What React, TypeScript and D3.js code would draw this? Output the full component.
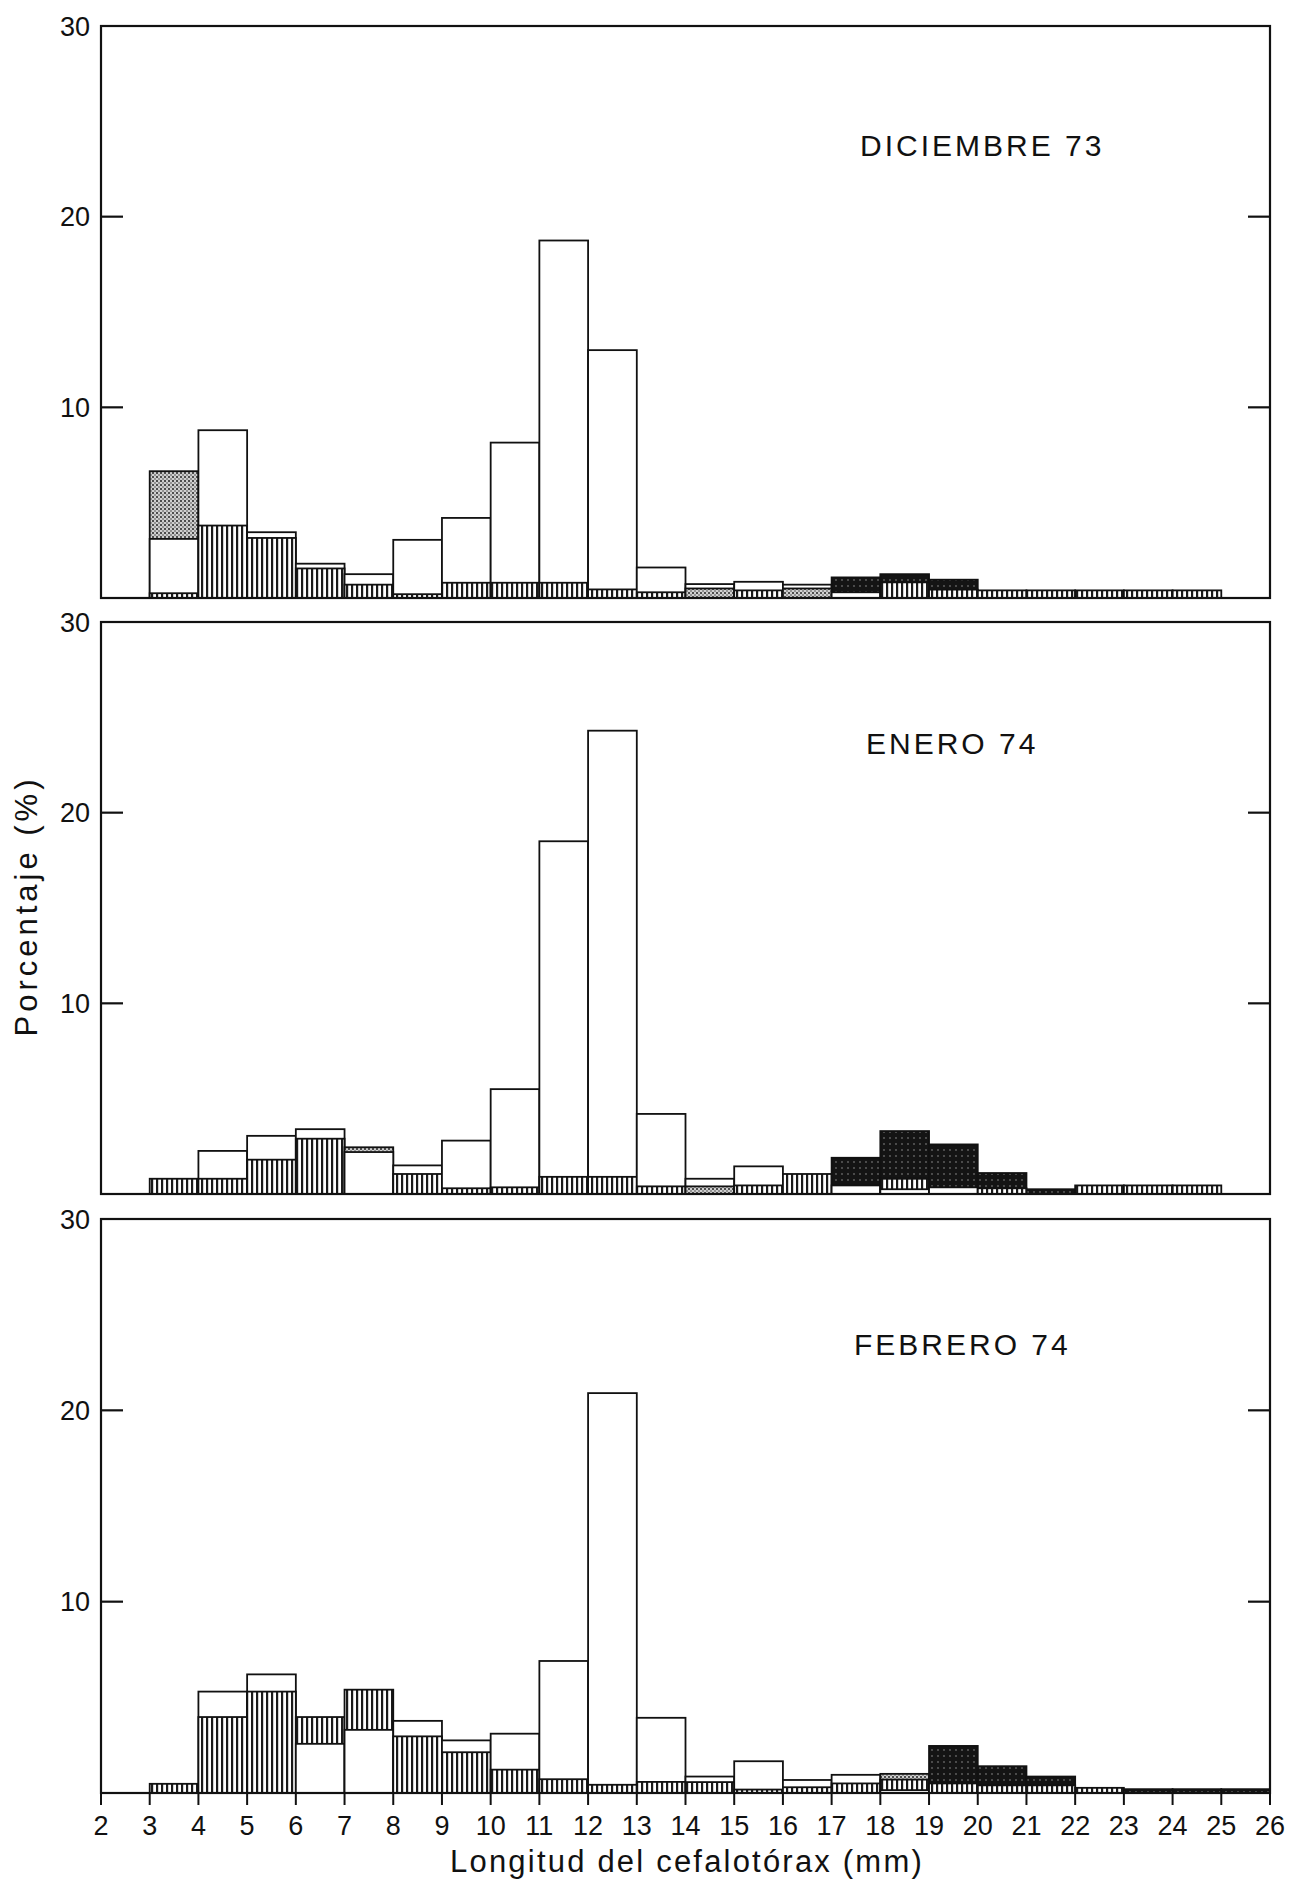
import React, { useEffect, useRef } from 'react';
import * as d3 from 'd3';

// clases de talla (limite inferior, mm)
const clases = [3, 4, 5, 6, 7, 8, 9, 10, 11, 12, 13, 14, 15, 16, 17, 18, 19, 20, 21, 22, 23, 24, 25];

const titulos = ['DICIEMBRE 73', 'ENERO 74', 'FEBRERO 74'];

// DICIEMBRE 73
const dicAbierto = [3.1, 8.8, 3.45, 1.8, 1.25, 3.05, 4.2, 8.15, 18.75, 13.0, 1.6, 0.73, 0.85, 0.7, 0.3, 0, 0, 0, 0, 0, 0, 0, 0];
const dicRayado = [0.25, 3.8, 3.15, 1.55, 0.7, 0.2, 0.8, 0.8, 0.8, 0.45, 0.3, 0, 0.4, 0, 0, 0.82, 0.44, 0.4, 0.4, 0.4, 0.4, 0.4, 0];
const dicPunteado = [6.65, 0, 0, 0, 0, 0, 0, 0, 0, 0, 0, 0.5, 0, 0.5, 0, 0, 0, 0, 0, 0, 0, 0, 0];
const dicNegro = [0, 0, 0, 0, 0, 0, 0, 0, 0, 0, 0, 0, 0, 0, 1.08, 1.25, 0.96, 0, 0, 0, 0, 0, 0];

// ENERO 74
const eneAbierto = [0, 2.26, 3.05, 3.4, 2.2, 1.5, 2.8, 5.5, 18.5, 24.3, 4.2, 0.8, 1.45, 0, 0.45, 0.25, 0.35, 0, 0, 0, 0, 0, 0];
const eneRayado = [0.8, 0.8, 1.8, 2.9, 0, 1.05, 0.3, 0.35, 0.9, 0.9, 0.4, 0, 0.45, 1.05, 0, 0.8, 0, 0.3, 0, 0.45, 0.45, 0.45, 0];
const enePunteado = [0, 0, 0, 0, 2.45, 0, 0, 0, 0, 0, 0, 0.4, 0, 0, 0, 0, 0, 0, 0, 0, 0, 0, 0];
const eneNegro = [0, 0, 0, 0, 0, 0, 0, 0, 0, 0, 0, 0, 0, 0, 1.9, 3.3, 2.6, 1.1, 0.25, 0, 0, 0, 0];

// FEBRERO 74
const febAbierto = [0, 5.3, 6.2, 2.57, 3.3, 3.77, 2.75, 3.1, 6.9, 20.9, 3.93, 0.86, 1.66, 0.68, 0.95, 0.15, 0, 0, 0, 0, 0, 0, 0];
const febRayado = [0.48, 3.97, 5.3, 3.97, 5.4, 2.96, 2.13, 1.22, 0.72, 0.43, 0.58, 0.57, 0.18, 0.3, 0.5, 0.7, 0.5, 0.4, 0.4, 0.27, 0, 0, 0];
const febPunteado = [0, 0, 0, 0, 0, 0, 0, 0, 0, 0, 0, 0, 0, 0, 0, 1.0, 0, 0, 0, 0, 0, 0, 0];
const febNegro = [0, 0, 0, 0, 0, 0, 0, 0, 0, 0, 0, 0, 0, 0, 0, 0, 2.46, 1.4, 0.86, 0, 0.2, 0.2, 0.2];

const yTicks = [10, 20];
const yLabels = [10, 20, 30];
const xTicks = d3.range(2, 27);

const width = 1305;
const height = 1882;
const font = '"Liberation Sans", Arial, sans-serif';

export default function App() {
  const ref = useRef<SVGSVGElement>(null);

  useEffect(() => {
    drawChart();
  }, []);

  function drawChart() {
    const svg = d3.select(ref.current);
    svg.selectAll('*').remove();

    svg.append('rect').attr('width', width).attr('height', height).attr('fill', '#fff');

    // patterns
    const defs = svg.append('defs');
    const pRay = defs.append('pattern').attr('id', 'rayado')
      .attr('patternUnits', 'userSpaceOnUse').attr('width', 5).attr('height', 6);
    pRay.append('rect').attr('width', 5).attr('height', 6).attr('fill', '#fff');
    pRay.append('rect').attr('x', 1).attr('width', 2.2).attr('height', 6).attr('fill', '#1a1a1a');

    const pPun = defs.append('pattern').attr('id', 'punteado')
      .attr('patternUnits', 'userSpaceOnUse').attr('width', 4).attr('height', 4);
    pPun.append('rect').attr('width', 4).attr('height', 4).attr('fill', '#cfcfcf');
    pPun.append('circle').attr('cx', 1).attr('cy', 1).attr('r', 1).attr('fill', '#222');
    pPun.append('circle').attr('cx', 3).attr('cy', 3).attr('r', 0.8).attr('fill', '#444');

    const pNeg = defs.append('pattern').attr('id', 'negro')
      .attr('patternUnits', 'userSpaceOnUse').attr('width', 6).attr('height', 6);
    pNeg.append('rect').attr('width', 6).attr('height', 6).attr('fill', '#141414');
    pNeg.append('circle').attr('cx', 2).attr('cy', 4).attr('r', 0.7).attr('fill', '#aaa');

    const fills: any = {
      abierto: '#fff',
      rayado: 'url(#rayado)',
      punteado: 'url(#punteado)',
      negro: 'url(#negro)',
    };

    const paneles = [
      { top: 26, bottom: 598, tx: 860, ty: 130, series: { abierto: dicAbierto, rayado: dicRayado, punteado: dicPunteado, negro: dicNegro } },
      { top: 622, bottom: 1194, tx: 866, ty: 132, series: { abierto: eneAbierto, rayado: eneRayado, punteado: enePunteado, negro: eneNegro } },
      { top: 1219, bottom: 1793, tx: 854, ty: 136, series: { abierto: febAbierto, rayado: febRayado, punteado: febPunteado, negro: febNegro } },
    ];

    const x = d3.scaleLinear().domain([2, 26]).range([101, 1270]);

    paneles.forEach((p, pi) => {
      const y = d3.scaleLinear().domain([0, 30]).range([p.bottom, p.top]);
      const g = svg.append('g');

      // bars: in each class the tallest goes behind, the shortest in front
      clases.forEach((c, i) => {
        const barras = Object.keys(p.series)
          .map((k) => ({ k, v: p.series[k][i] }))
          .filter((d) => d.v > 0)
          .sort((a, b) => b.v - a.v);
        g.selectAll(null)
          .data(barras)
          .enter()
          .append('rect')
          .attr('x', x(c))
          .attr('width', x(c + 1) - x(c))
          .attr('y', (d) => y(d.v))
          .attr('height', (d) => y(0) - y(d.v))
          .attr('fill', (d) => fills[d.k])
          .attr('stroke', '#111')
          .attr('stroke-width', 1.8);
      });

      // frame
      g.append('rect')
        .attr('x', x(2)).attr('y', y(30))
        .attr('width', x(26) - x(2)).attr('height', y(0) - y(30))
        .attr('fill', 'none').attr('stroke', '#111').attr('stroke-width', 2.2);

      // inward ticks, both sides
      yTicks.forEach((t) => {
        g.append('line').attr('x1', x(2)).attr('x2', x(2) + 22)
          .attr('y1', y(t)).attr('y2', y(t)).attr('stroke', '#111').attr('stroke-width', 2.2);
        g.append('line').attr('x1', x(26) - 22).attr('x2', x(26))
          .attr('y1', y(t)).attr('y2', y(t)).attr('stroke', '#111').attr('stroke-width', 2.2);
      });

      g.selectAll(null)
        .data(yLabels)
        .enter()
        .append('text')
        .attr('x', 90)
        .attr('y', (d) => y(d))
        .attr('dy', '0.36em')
        .attr('text-anchor', 'end')
        .style('font-family', font)
        .style('font-size', '27px')
        .attr('fill', '#111')
        .text((d) => d);

      g.append('text')
        .attr('x', p.tx)
        .attr('y', y(30) + p.ty)
        .style('font-family', font)
        .style('font-size', '30px')
        .style('letter-spacing', '3px')
        .attr('fill', '#111')
        .text(titulos[pi]);

      if (pi === 2) {
        g.selectAll(null)
          .data(xTicks)
          .enter()
          .append('line')
          .attr('x1', (d) => x(d)).attr('x2', (d) => x(d))
          .attr('y1', y(0)).attr('y2', y(0) + 12)
          .attr('stroke', '#111').attr('stroke-width', 2);
        g.selectAll(null)
          .data(xTicks)
          .enter()
          .append('text')
          .attr('x', (d) => x(d))
          .attr('y', y(0) + 42)
          .attr('text-anchor', 'middle')
          .style('font-family', font)
          .style('font-size', '27px')
          .attr('fill', '#111')
          .text((d) => d);
      }
    });

    svg.append('text')
      .attr('x', 687)
      .attr('y', 1872)
      .attr('text-anchor', 'middle')
      .style('font-family', font)
      .style('font-size', '31px')
      .style('letter-spacing', '2.2px')
      .attr('fill', '#111')
      .text('Longitud del cefalotórax (mm)');

    svg.append('text')
      .attr('transform', 'translate(37, 906) rotate(-90)')
      .attr('text-anchor', 'middle')
      .style('font-family', font)
      .style('font-size', '31px')
      .style('letter-spacing', '4px')
      .attr('fill', '#111')
      .text('Porcentaje (%)');
  }

  return (
    <svg
      ref={ref}
      width={width}
      height={height}
      style={{ position: 'absolute', left: 0, top: 0 }}
    />
  );
}
